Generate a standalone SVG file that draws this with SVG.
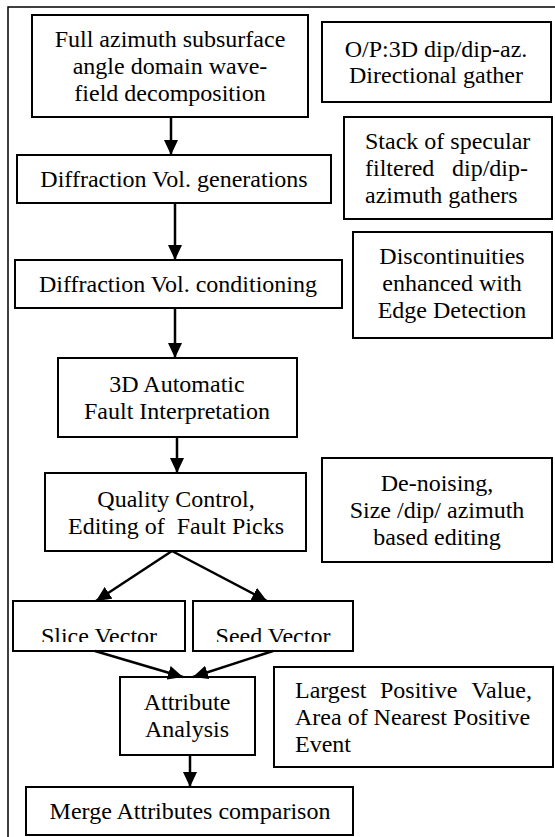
<svg xmlns="http://www.w3.org/2000/svg" width="555" height="837" viewBox="0 0 555 837">
<style>
.box{fill:#fff;stroke:#000;stroke-width:2}
.t{font-family:'Liberation Serif','DejaVu Serif','Times New Roman',serif;font-size:24px;fill:#000}
.c{text-anchor:middle}
.e{text-anchor:end}
.ln{stroke:#000;stroke-width:2.5;fill:none;marker-end:url(#ah)}
</style>
<defs>
<marker id="ah" markerUnits="userSpaceOnUse" markerWidth="15" markerHeight="14" refX="15" refY="7" orient="auto">
<path d="M0,0 L15,7 L0,14 z" fill="#000"/>
</marker>
<clipPath id="cl"><rect x="0" y="600" width="555" height="42"/></clipPath>
</defs>
<rect x="8" y="7" width="600" height="900" fill="none" stroke="#000" stroke-width="1.5"/>
<g font-family="Liberation Serif, DejaVu Serif, serif">
<g id="n1"><rect class="box" x="32" y="15" width="276" height="102"/>
<text class="t c" x="170" y="47">Full azimuth subsurface</text>
<text class="t c" x="170" y="74">angle domain wave-</text>
<text class="t c" x="170" y="101">field decomposition</text></g>
<g id="n2"><rect class="box" x="17" y="155" width="314" height="48"/>
<text class="t c" x="174" y="187">Diffraction Vol. generations</text></g>
<g id="n3"><rect class="box" x="15" y="260" width="327" height="48"/>
<text class="t c" x="178" y="292">Diffraction Vol. conditioning</text></g>
<g id="n4"><rect class="box" x="58" y="358" width="239" height="79"/>
<text class="t c" x="177" y="392">3D Automatic</text>
<text class="t c" x="177" y="419">Fault Interpretation</text></g>
<g id="n5"><rect class="box" x="45" y="473" width="261" height="78"/>
<text class="t c" x="176" y="507">Quality Control,</text>
<text class="t c" x="176" y="534" xml:space="preserve">Editing of  Fault Picks</text></g>
<g id="n6"><rect class="box" x="13" y="601" width="172" height="50"/>
<text class="t c" x="99" y="644" clip-path="url(#cl)">Slice Vector</text></g>
<g id="n7"><rect class="box" x="193" y="601" width="160" height="50"/>
<text class="t c" x="273" y="644" clip-path="url(#cl)">Seed Vector</text></g>
<g id="n8"><rect class="box" x="120" y="677" width="135" height="78"/>
<text class="t c" x="187" y="710">Attribute</text>
<text class="t c" x="187" y="737">Analysis</text></g>
<g id="n9"><rect class="box" x="26" y="787" width="327" height="48"/>
<text class="t c" x="190" y="819">Merge Attributes comparison</text></g>
<g id="note1"><rect class="box" x="322" y="22" width="229" height="80"/>
<text class="t c" x="436" y="57">O/P:3D dip/dip-az.</text>
<text class="t c" x="436" y="83">Directional gather</text></g>
<g id="note2"><rect class="box" x="344" y="117" width="208" height="102"/>
<text class="t" x="365" y="149">Stack of specular</text>
<text class="t" x="365" y="176">filtered</text><text class="t e" x="528" y="176">dip/dip-</text>
<text class="t" x="365" y="203">azimuth gathers</text></g>
<g id="note3"><rect class="box" x="353" y="232" width="199" height="106"/>
<text class="t c" x="452" y="264">Discontinuities</text>
<text class="t c" x="452" y="291">enhanced with</text>
<text class="t c" x="452" y="318">Edge Detection</text></g>
<g id="note4"><rect class="box" x="322" y="458" width="230" height="104"/>
<text class="t c" x="437" y="491">De-noising,</text>
<text class="t c" x="437" y="518">Size /dip/ azimuth</text>
<text class="t c" x="437" y="545">based editing</text></g>
<g id="note5"><rect class="box" x="274" y="667" width="279" height="100"/>
<text class="t" x="295" y="698">Largest</text><text class="t" x="380" y="698">Positive</text><text class="t e" x="532" y="698">Value,</text>
<text class="t" x="295" y="725">Area of Nearest Positive</text>
<text class="t" x="295" y="752">Event</text></g>
</g>
<g id="connectors">
<line class="ln" x1="171" y1="117" x2="171" y2="155"/>
<line class="ln" x1="175" y1="203" x2="175" y2="260"/>
<line class="ln" x1="175" y1="308" x2="175" y2="358"/>
<line class="ln" x1="177" y1="437" x2="177" y2="473"/>
<line class="ln" x1="172" y1="551" x2="96" y2="601"/>
<line class="ln" x1="172" y1="551" x2="267" y2="601"/>
<line class="ln" x1="95" y1="651" x2="183" y2="677"/>
<line class="ln" x1="273" y1="651" x2="193" y2="677"/>
<line class="ln" x1="190" y1="755" x2="190" y2="787"/>
</g>
</svg>
